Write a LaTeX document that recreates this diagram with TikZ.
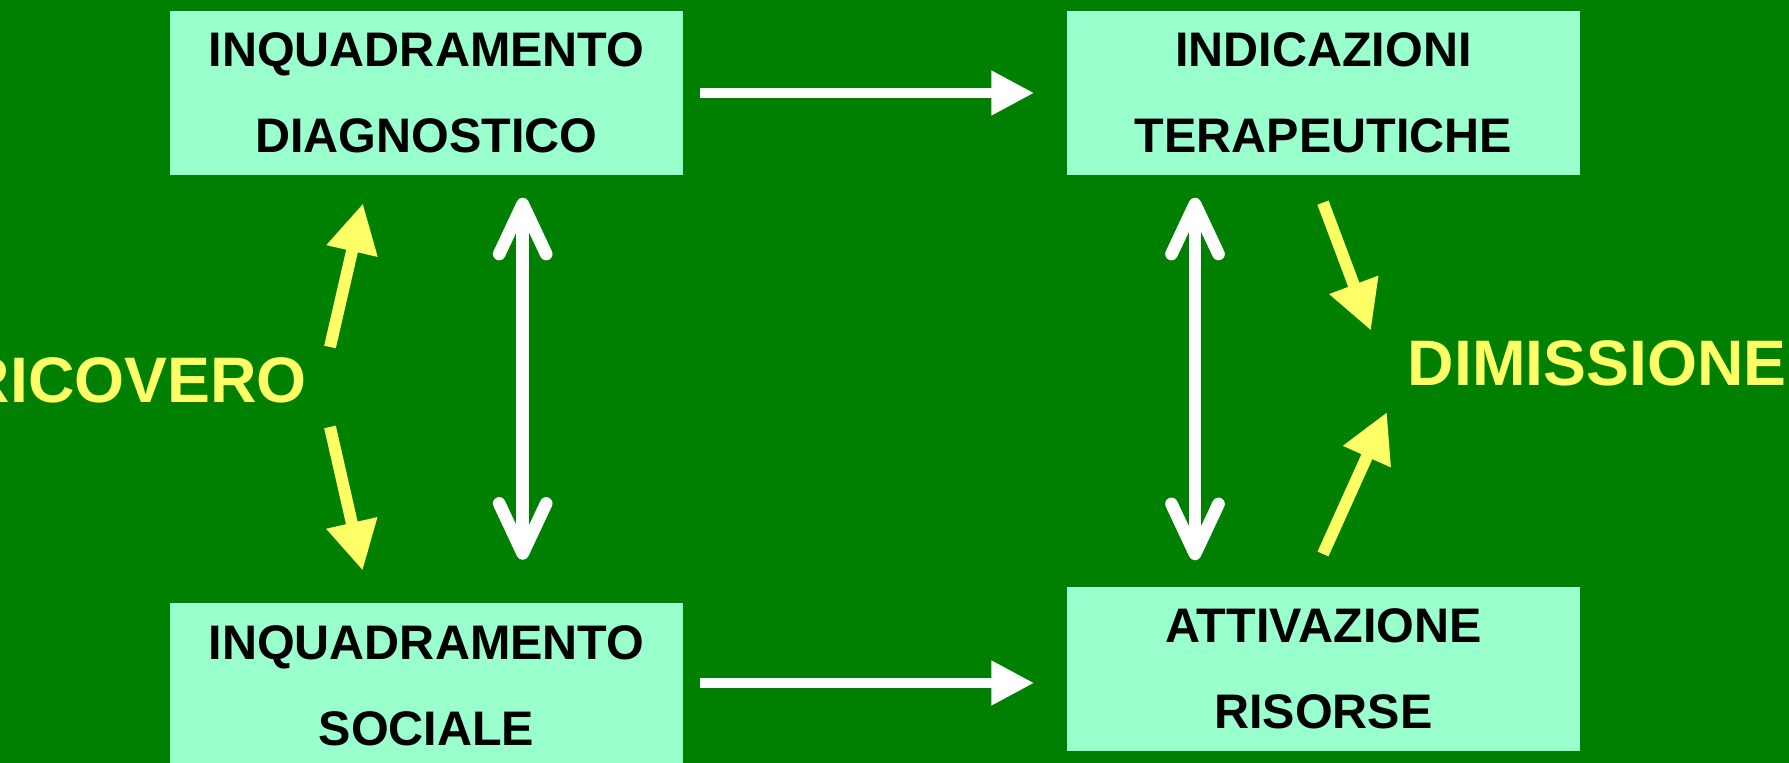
\documentclass[tikz,border=0pt]{standalone}
\usepackage{fontspec}
\setmainfont{Liberation Sans}
\usetikzlibrary{arrows.meta}
\definecolor{bggreen}{RGB}{0,128,0}
\definecolor{mint}{RGB}{153,255,204}
\definecolor{lemon}{RGB}{255,255,102}
\tikzset{
  box/.style={fill=mint, inner sep=0pt, minimum width=5.13cm, minimum height=1.64cm,
    align=center, font=\fontsize{13.8}{24.5}\selectfont\bfseries},
  lbl/.style={text=lemon, inner sep=0pt, font=\fontsize{18.3}{20}\selectfont\bfseries},
  flow/.style={white, line width=3pt, -{Triangle[length=4.3mm,width=4.2mm]}},
  link/.style={white, line width=3.6pt,
    {Straight Barb[length=5mm,width=4.7mm,round]}-{Straight Barb[length=5mm,width=4.7mm,round]}},
  yarrow/.style={lemon, line width=3.4pt, -{Triangle[length=4.9mm,width=4.9mm]}}
}
\begin{document}
\begin{tikzpicture}
\useasboundingbox (0,0) rectangle (17.89,7.63);
\clip (0,0) rectangle (17.89,7.63);
\fill[bggreen] (0,0) rectangle (17.89,7.63);

\node[box] (dx) at (4.265,6.70) {INQUADRAMENTO\\DIAGNOSTICO};
\node[box] (ti) at (13.235,6.70) {INDICAZIONI\\TERAPEUTICHE};
\node[box] (so) at (4.265,0.775) {INQUADRAMENTO\\SOCIALE};
\node[box] (ri) at (13.235,0.94) {ATTIVAZIONE\\RISORSE};

\node[lbl, anchor=base east] (ric) at (3.076,3.603) {RICOVERO};
\node[lbl, anchor=base west] (dim) at (14.07,3.77) {DIMISSIONE};

% white connectors
\draw[flow, shorten <=1.6mm, shorten >=3.2mm] (dx.east) -- (ti.west);
\draw[flow, shorten <=1.6mm, shorten >=3.2mm] ([yshift=.25mm]so.east) -- ([yshift=.25mm]so.east -| ri.west);
\draw[link, shorten <=2.2mm, shorten >=4.3mm] ([xshift=9.62mm]dx.south) -- ([xshift=9.62mm]so.north);
\draw[link, shorten <=2.2mm, shorten >=2.6mm] ([xshift=-12.85mm]ti.south) -- ([xshift=-12.85mm]ri.north);

% yellow arrows
\coordinate (r1) at (3.30,4.16);
\coordinate (r2) at (3.30,3.36);
\coordinate (d1) at (13.23,5.603);
\coordinate (d2) at (13.23,2.09);
\draw[yarrow] (r1) -- (3.63,5.597);
\draw[yarrow] (r2) -- (3.627,1.923);
\draw[yarrow] (d1) -- (13.71,4.323);
\draw[yarrow] (d2) -- (13.87,3.51);
\end{tikzpicture}
\end{document}
